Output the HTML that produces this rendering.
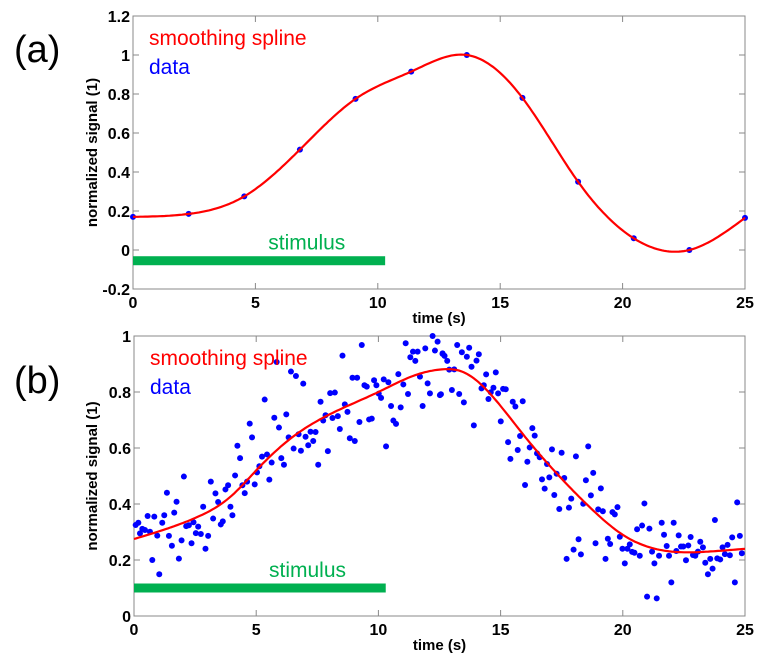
<!DOCTYPE html>
<html><head><meta charset="utf-8"><style>
html,body{margin:0;padding:0;background:#fff;}
svg{display:block;}
.tick{font:bold 16px "Liberation Sans",sans-serif;fill:#000;}
.ttl{font:bold 15px "Liberation Sans",sans-serif;fill:#000;}
.leg{font:21px "Liberation Sans",sans-serif;}
.pan{font:38px "Liberation Sans",sans-serif;fill:#000;}
</style></head><body>
<svg id="svg" width="768" height="669" viewBox="0 0 768 669" xmlns="http://www.w3.org/2000/svg"></svg>
<script>
// Panel (a) data
const aTimes=[0,2.273,4.545,6.818,9.091,11.364,13.636,15.909,18.182,20.455,22.727,25];
const aValues=[0.17,0.185,0.275,0.515,0.775,0.915,1.0,0.78,0.35,0.06,0.0,0.165];
const aYTicks=[-0.2,0,0.2,0.4,0.6,0.8,1,1.2];
const aYTickLabels=["-0.2","0","0.2","0.4","0.6","0.8","1","1.2"];
const xTicks=[0,5,10,15,20,25];
const xTickLabels=["0","5","10","15","20","25"];
// Panel (b) smoothing spline knots
const bSplineT=[0,2.5,4,5,6.5,8,10,11.5,12.5,13.5,15,16,17.5,18.75,20,22,23.5,25];
const bSplineV=[0.275,0.35,0.43,0.52,0.64,0.72,0.80,0.86,0.88,0.87,0.75,0.64,0.49,0.38,0.29,0.23,0.23,0.24];
const bYTicks=[0,0.2,0.4,0.6,0.8,1];
const bYTickLabels=["0","0.2","0.4","0.6","0.8","1"];
// Panel (b) scatter data (time s, value)
const bLeftT=[];const bLeftV=[];
const bRightT=[];const bRightV=[];
const rawL=[[32,585],[40,578],[45,610],[52,597],[60,600],[68,558],[75,605],[82,690],[88,560],[97,617],[103,733],[112,578],[118,556],[126,488],[132,618],[141,647],[148,548],[155,515],[162,686],[170,631],[177,440],[184,588],[192,586],[200,640],[206,577],[213,609],[220,590],[228,612],[235,530],[242,656],[250,618],[258,455],[265,566],[272,490],[280,516],[288,583],[294,574],[302,478],[310,466],[317,530],[323,556],[331,436],[338,347],[346,384],[353,466],[360,489],[367,455],[375,281],[382,322],[390,463],[397,427],[404,409],[412,380],[420,209],[427,373],[434,449],[441,398],[449,263],[456,96],[463,293],[470,384],[478,404],[485,253],[492,322],[499,125],[507,356],[514,138],[522,313],[529,362],[536,161],[543,320],[551,346],[558,305],[566,333],[573,306],[581,404],[588,215],[596,272],[603,256],[610,363],[617,189],[624,264],[631,188],[640,258],[646,297],[654,77],[661,223],[669,246],[676,325],[684,143],[691,333],[698,143],[705,276],[712,45],[720,166],[727,170],[734,268],[742,266],[749,151],[756,166],[763,191],[770,204],[778,148],[785,349],[792,157],[800,228],[807,272],[815,282],[822,132],[829,232],[837,163],[844,40],[851,192],[858,82],[866,65],[873,93],[880,65],[887,140],[895,228],[903,55],[910,160],[917,190],[925,18],[932,62],[940,35],[947,195],[955,72]];
const rawR=[[5,193],[10,70],[16,78],[24,93],[30,119],[38,180],[45,118],[54,45],[60,192],[68,67],[74,217],[83,80],[90,53],[97,110],[104,286],[112,92],[119,73],[127,175],[134,166],[141,133],[148,207],[155,187],[163,173],[170,127],[177,190],[185,274],[192,177],[200,178],[207,336],[214,387],[221,215],[229,230],[236,360],[243,318],[251,214],[258,465],[265,395],[272,352],[280,294],[287,317],[294,370],[302,382],[309,448],[317,476],[324,402],[331,442],[339,358],[346,495],[353,431],[361,537],[368,368],[376,444],[383,687],[390,533],[397,506],[404,659],[411,379],[419,628],[426,673],[433,521],[441,451],[448,349],[456,496],[463,429],[470,640],[478,538],[486,475],[492,544],[500,687],[507,626],[514,642],[521,546],[528,553],[536,531],[543,620],[551,656],[558,700],[566,656],[573,643],[580,666],[587,668],[595,598],[603,677],[610,587],[617,520],[625,800],[632,596],[640,665],[647,700],[654,805],[661,677],[669,578],[676,614],[684,648],[691,677],[698,757],[705,578],[713,663],[720,616],[727,650],[734,650],[742,691],[749,646],[756,621],[763,675],[770,677],[778,665],[785,635],[793,652],[800,698],[808,733],[815,687],[822,716],[829,570],[836,685],[845,688],[852,652],[859,672],[867,645],[874,676],[881,622],[889,757],[896,517],[904,618],[910,670]];
rawL.forEach(p=>{bLeftT.push(+((p[0]/3-9)/24.5).toFixed(3));bLeftV.push(+((286-p[1]/3)/280).toFixed(3));});
rawR.forEach(p=>{bRightT.push(+((306+p[0]/3)/24.5).toFixed(3));bRightV.push(+((286-p[1]/3)/280).toFixed(3));});
const bTimes=bLeftT.concat(bRightT);
const bValues=bLeftV.concat(bRightV);

const NS='http://www.w3.org/2000/svg';
const svg=document.getElementById('svg');
function mk(tag,attrs,parent){const e=document.createElementNS(NS,tag);for(const k in attrs)e.setAttribute(k,attrs[k]);(parent||svg).appendChild(e);return e;}

function spline(xs,ys){const n=xs.length;const h=[],al=[],l=[1],mu=[0],z=[0];
 for(let i=0;i<n-1;i++)h.push(xs[i+1]-xs[i]);
 for(let i=1;i<n-1;i++)al[i]=3/h[i]*(ys[i+1]-ys[i])-3/h[i-1]*(ys[i]-ys[i-1]);
 for(let i=1;i<n-1;i++){l[i]=2*(xs[i+1]-xs[i-1])-h[i-1]*mu[i-1];mu[i]=h[i]/l[i];z[i]=(al[i]-h[i-1]*z[i-1])/l[i];}
 const c=new Array(n).fill(0),b=[],d=[];
 for(let j=n-2;j>=0;j--){c[j]=(j>0?z[j]-mu[j]*c[j+1]:0);b[j]=(ys[j+1]-ys[j])/h[j]-h[j]*(c[j+1]+2*c[j])/3;d[j]=(c[j+1]-c[j])/(3*h[j]);}
 return x=>{let i=0;while(i<n-2&&x>xs[i+1])i++;const dx=x-xs[i];return ys[i]+b[i]*dx+c[i]*dx*dx+d[i]*dx*dx*dx;};}

function panel(cfg){
 const g=mk('g',{});
 
 
 const X=t=>cfg.L+(t-0)/25*(cfg.R-cfg.L);
 const Y=v=>cfg.B-(v-cfg.ymin)/(cfg.ymax-cfg.ymin)*(cfg.B-cfg.T);
 const box=mk('rect',{x:cfg.L,y:cfg.T,width:cfg.R-cfg.L,height:cfg.B-cfg.T,fill:'#fff',stroke:'#888','stroke-width':1},g);
 
 xTicks.forEach((t,i)=>{const x=X(t);
  mk('line',{x1:x,y1:cfg.B,x2:x,y2:cfg.B-6,stroke:'#888'},g);mk('line',{x1:x,y1:cfg.T,x2:x,y2:cfg.T+6,stroke:'#888'},g);
  const tx=mk('text',{x:x,y:cfg.B+19,'text-anchor':'middle',class:'tick'},g);tx.textContent=xTickLabels[i];
  });
 cfg.yt.forEach((v,i)=>{const y=Y(v);
  mk('line',{x1:cfg.L,y1:y,x2:cfg.L+6,y2:y,stroke:'#888'},g);mk('line',{x1:cfg.R,y1:y,x2:cfg.R-6,y2:y,stroke:'#888'},g);
  const tx=mk('text',{x:cfg.L-3,y:y+6,'text-anchor':'end',class:'tick'},g);tx.textContent=cfg.ytl[i];
  });
 const xt=mk('text',{x:(cfg.L+cfg.R)/2,y:cfg.B+34,'text-anchor':'middle',class:'ttl'},g);xt.textContent='time (s)';
 
 const yc=(cfg.T+cfg.B)/2;
 const yt=mk('text',{x:97,y:yc,'text-anchor':'middle',class:'ttl',transform:'rotate(-90 97 '+yc+')'},g);yt.textContent='normalized signal (1)';
 
 const bar=mk('rect',{x:X(0),y:Y(cfg.stimV)-4.5,width:X(10.3)-X(0),height:9,fill:'#00b050'},g);
 
 const st=mk('text',{x:X(7.1),y:Y(cfg.stimV)-11,'text-anchor':'middle',class:'leg',fill:'#00b050'},g);st.textContent='stimulus';
 
 cfg.dt.forEach((t,i)=>{const c=mk('circle',{cx:X(t),cy:Y(cfg.dv[i]),r:cfg.r,fill:'#0000ff'},g);
  });
 const f=spline(cfg.st,cfg.sv);let d='';
 for(let i=0;i<=250;i++){const t=i/10;d+=(i?'L':'M')+X(t).toFixed(1)+','+Y(f(t)).toFixed(1);}
 const p=mk('path',{d:d,fill:'none',stroke:'#ff0000','stroke-width':2.2},g);
 
 const l1=mk('text',{x:cfg.L+16,y:cfg.T+29,class:'leg',fill:'#ff0000'},g);l1.textContent='smoothing spline';
 
 const l2=mk('text',{x:cfg.L+16,y:cfg.T+58,class:'leg',fill:'#0000ff'},g);l2.textContent='data';
 
 const pl=mk('text',{x:14,y:cfg.labY,class:'pan'},g);pl.textContent=cfg.label;
 
}
panel({name:'panel-a',L:133,R:745,T:16,B:289,ymin:-0.2,ymax:1.2,yt:aYTicks,ytl:aYTickLabels,dt:aTimes,dv:aValues,st:aTimes,sv:aValues,stimV:-0.055,r:3,label:'(a)',labY:62});
panel({name:'panel-b',L:134,R:745,T:336,B:616,ymin:0,ymax:1,yt:bYTicks,ytl:bYTickLabels,dt:bTimes,dv:bValues,st:bSplineT,sv:bSplineV,stimV:0.1,r:3,label:'(b)',labY:393});
</script>
</body></html>
